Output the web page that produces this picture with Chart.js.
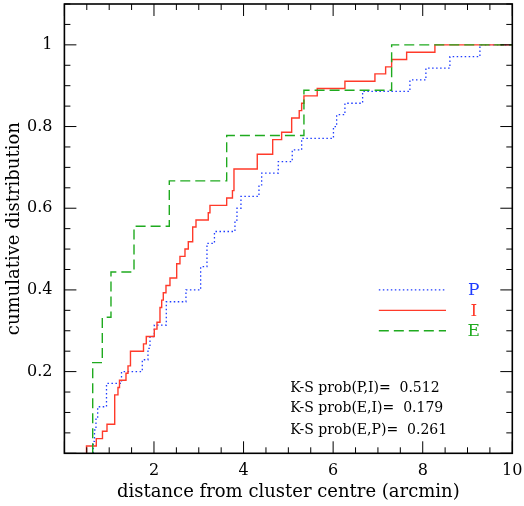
<!DOCTYPE html>
<html>
<head>
<meta charset="utf-8">
<script src="https://cdn.jsdelivr.net/npm/chart.js@4/dist/chart.umd.min.js"></script>
<style>
  body { margin: 0; background: #fff; }
  canvas { display: block; }
</style>
</head>
<body>
<canvas id="ksChart" width="524" height="506"></canvas>
<script>
// distances (arcmin) where each cumulative curve steps up, and the level reached
const pDist = [0.645, 0.672, 0.705, 0.743, 0.94, 1.275, 1.739, 1.866, 1.911, 2.007,
  2.275, 2.714, 3.042, 3.183, 3.35, 3.808, 3.853, 3.942, 4.344, 4.404,
  4.775, 5.087, 5.297, 6.007, 6.078, 6.263, 6.658, 7.714, 8.071, 8.607, 9.277];
const pFrac = [0.029, 0.057, 0.086, 0.114, 0.171, 0.2, 0.229, 0.257, 0.286, 0.314,
  0.371, 0.4, 0.457, 0.514, 0.543, 0.571, 0.6, 0.629, 0.657, 0.686,
  0.714, 0.743, 0.771, 0.8, 0.829, 0.857, 0.886, 0.914, 0.943, 0.971, 1.0];

const iDist = [0.493, 0.712, 0.85, 0.951, 1.123, 1.196, 1.23, 1.375, 1.42, 1.475,
  1.766, 1.828, 2.007, 2.067, 2.134, 2.172, 2.208, 2.268, 2.357, 2.507,
  2.58, 2.692, 2.766, 2.864, 2.938, 3.212, 3.25, 3.623, 3.752, 3.786,
  4.306, 4.65, 4.85, 5.074, 5.243, 5.297, 5.348, 5.645, 6.263, 6.933,
  7.172, 7.306, 7.641, 8.272];
const iFrac = [0.018, 0.036, 0.054, 0.071, 0.143, 0.161, 0.179, 0.196, 0.214, 0.25,
  0.268, 0.286, 0.304, 0.321, 0.357, 0.375, 0.393, 0.411, 0.429, 0.464,
  0.482, 0.5, 0.518, 0.554, 0.571, 0.589, 0.607, 0.625, 0.643, 0.696,
  0.732, 0.768, 0.786, 0.821, 0.839, 0.857, 0.875, 0.893, 0.911, 0.929,
  0.946, 0.964, 0.982, 1.0];

const eDist = [0.632, 0.846, 1.04, 1.554, 2.342, 3.623, 5.348, 7.306];
const eFrac = [0.222, 0.333, 0.444, 0.556, 0.667, 0.778, 0.889, 1.0];

const xTicks = [2, 4, 6, 8, 10];
const yTicks = [0.2, 0.4, 0.6, 0.8, 1];

const legendNames = ["P", "I", "E"];
const ksLines = ["K-S prob(P,I)=  0.512", "K-S prob(E,I)=  0.179", "K-S prob(E,P)=  0.261"];

const X_MAX = 10, Y_MAX = 1.1;
const BLUE = "#1f3cff", RED = "#ff3a2a", GREEN = "#1faa1f";
const FONT = "'DejaVu Serif', serif";

// build a cumulative step curve starting from zero
function stepPoints(dist, frac) {
  const pts = [{ x: dist[0], y: 0 }];
  dist.forEach((d, k) => pts.push({ x: d, y: frac[k] }));
  pts.push({ x: X_MAX, y: frac[frac.length - 1] });
  return pts;
}

const styles = {
  P: { color: BLUE, dash: [1.5, 2.5], width: 1.3 },
  I: { color: RED, dash: [], width: 1.4 },
  E: { color: GREEN, dash: [10, 5], width: 1.4 }
};

function line(ctx, x1, y1, x2, y2) {
  ctx.beginPath(); ctx.moveTo(x1, y1); ctx.lineTo(x2, y2); ctx.stroke();
}

// frame, inward ticks on all four sides, legend and K-S text
const framePlugin = {
  id: "frame",
  afterDraw(chart) {
    const { ctx, chartArea: a, scales: { x, y } } = chart;
    ctx.save();
    ctx.strokeStyle = "#000";
    ctx.lineWidth = 1;
    for (let k = 0; k <= 20; k++) {
      const px = x.getPixelForValue(k * 0.5);
      const len = k % 4 === 0 ? 12 : 6;
      line(ctx, px, a.bottom, px, a.bottom - len);
      line(ctx, px, a.top, px, a.top + len);
    }
    for (let k = 0; k <= 22; k++) {
      const py = y.getPixelForValue(k * 0.05);
      const len = k % 4 === 0 ? 12 : 6;
      line(ctx, a.left, py, a.left + len, py);
      line(ctx, a.right, py, a.right - len, py);
    }
    ctx.lineWidth = 1.6;
    ctx.strokeRect(a.left, a.top, a.right - a.left, a.bottom - a.top);

    // legend
    const legY = [0.4, 0.35, 0.3];
    ctx.font = "17px " + FONT;
    ctx.textAlign = "center";
    ctx.textBaseline = "middle";
    legendNames.forEach((name, k) => {
      const s = styles[name];
      const py = y.getPixelForValue(legY[k]);
      ctx.strokeStyle = s.color;
      ctx.lineWidth = s.width;
      ctx.setLineDash(s.dash);
      line(ctx, x.getPixelForValue(7.02), py, x.getPixelForValue(8.52), py);
      ctx.setLineDash([]);
      ctx.fillStyle = s.color;
      ctx.fillText(name, x.getPixelForValue(9.14), py + 1);
    });

    // K-S probabilities
    ctx.fillStyle = "#000";
    ctx.font = "14px " + FONT;
    ctx.textAlign = "left";
    const ksY = [0.16, 0.109, 0.057];
    ksLines.forEach((t, k) => ctx.fillText(t, x.getPixelForValue(5.04), y.getPixelForValue(ksY[k])));
    ctx.restore();
  }
};

const datasets = [
  { name: "E", dist: eDist, frac: eFrac },
  { name: "I", dist: iDist, frac: iFrac },
  { name: "P", dist: pDist, frac: pFrac }
].map(d => ({
  label: d.name,
  data: stepPoints(d.dist, d.frac),
  showLine: true,
  stepped: "before",
  borderColor: styles[d.name].color,
  borderWidth: styles[d.name].width,
  borderDash: styles[d.name].dash,
  pointRadius: 0,
  fill: false
}));

new Chart(document.getElementById("ksChart"), {
  type: "scatter",
  data: { datasets },
  options: {
    responsive: false,
    animation: false,
    layout: { padding: { top: 4, right: 11.7, left: 0, bottom: 0 } },
    plugins: { legend: { display: false }, tooltip: { enabled: false } },
    scales: {
      x: {
        type: "linear", min: 0, max: X_MAX,
        afterBuildTicks: s => { s.ticks = xTicks.map(v => ({ value: v })); },
        afterFit: s => { s.height = 52.7; s.paddingLeft = 0; s.paddingRight = 0; },
        grid: { display: false, drawTicks: false },
        border: { display: false },
        ticks: { color: "#000", padding: 8, font: { family: FONT, size: 16 }, maxRotation: 0,
          callback: v => String(v) },
        title: { display: true, text: "distance from cluster centre (arcmin)", color: "#000",
          font: { family: FONT, size: 18 }, padding: { top: 0, bottom: 3 } }
      },
      y: {
        type: "linear", min: 0, max: Y_MAX,
        afterBuildTicks: s => { s.ticks = yTicks.map(v => ({ value: v })); },
        afterFit: s => { s.width = 64.4; s.paddingTop = 0; s.paddingBottom = 0; },
        grid: { display: false, drawTicks: false },
        border: { display: false },
        ticks: { color: "#000", padding: 12, font: { family: FONT, size: 16 },
          callback: v => String(v) },
        title: { display: true, text: "cumulative distribution", color: "#000",
          font: { family: FONT, size: 18 }, padding: { top: 4, bottom: 0 } }
      }
    }
  },
  plugins: [framePlugin]
});
</script>
</body>
</html>
